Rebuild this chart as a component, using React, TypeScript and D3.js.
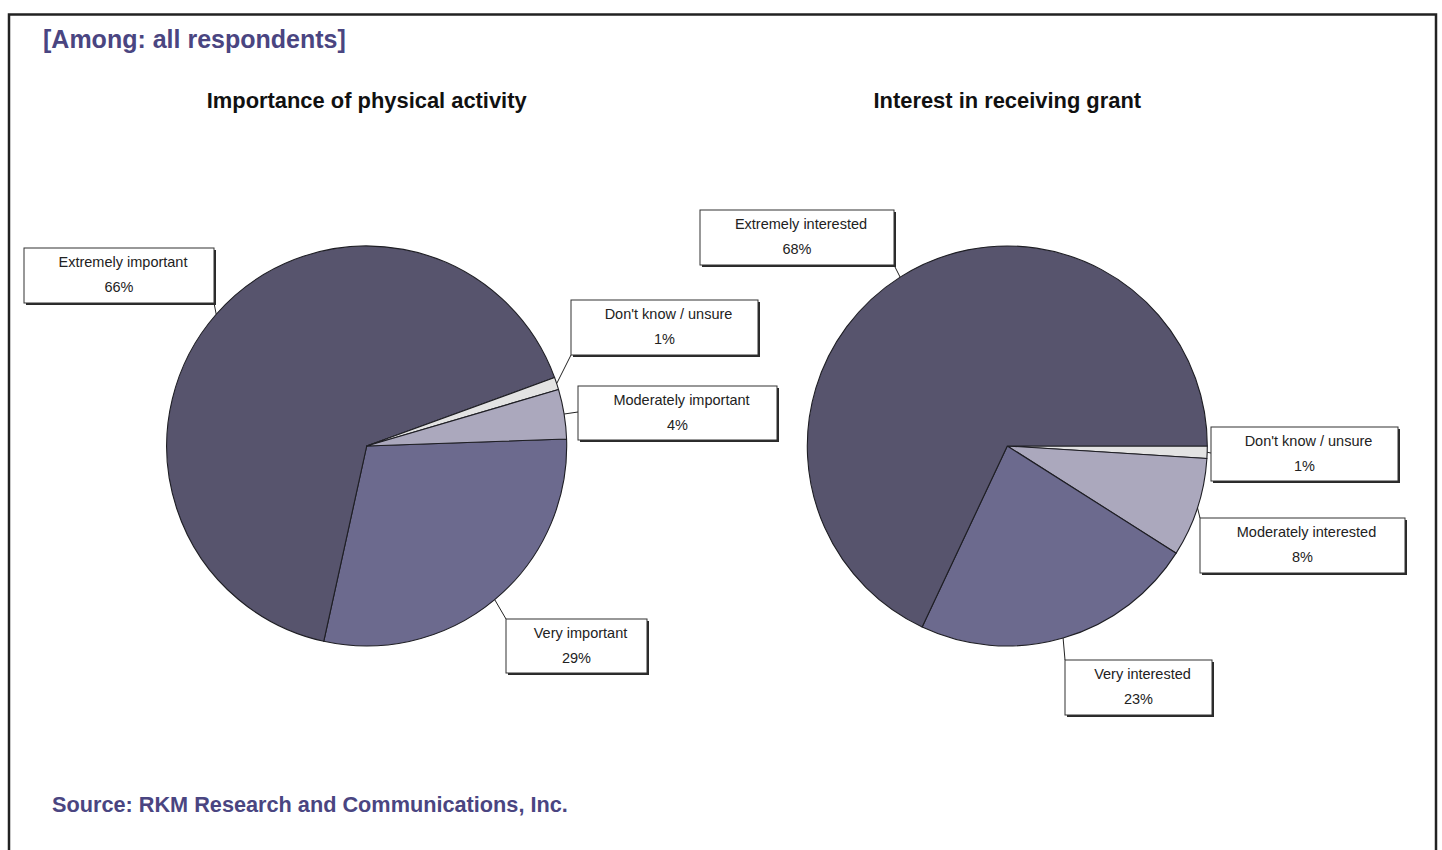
import React from "react";
import * as d3 from "d3";

// Chart 1: Importance of physical activity (clockwise drawing order)
const activityCategories = ["Very important", "Extremely important", "Don't know / unsure", "Moderately important"];
const activityValues = [29, 66, 1, 4];
const activityColors = ["#6c6a8e", "#57546d", "#e3e3e3", "#aba8bd"];

// Chart 2: Interest in receiving grant (clockwise drawing order)
const grantCategories = ["Don't know / unsure", "Moderately interested", "Very interested", "Extremely interested"];
const grantValues = [1, 8, 23, 68];
const grantColors = ["#e3e3e3", "#aba8bd", "#6c6a8e", "#57546d"];

const titles = ["Importance of physical activity", "Interest in receiving grant"];
const headerText = "[Among: all respondents]";
const sourceText = "Source: RKM Research and Communications, Inc.";

type Box = { x: number; y: number; w: number; h: number; cx: number; cy: number };

// label box layout (keyed by category index in drawing order)
const activityBoxes: Box[] = [
  { x: 506, y: 619, w: 141, h: 54, cx: 506, cy: 619 },
  { x: 24, y: 248, w: 190, h: 55, cx: 214, cy: 303 },
  { x: 571, y: 300, w: 187, h: 55, cx: 571, cy: 355 },
  { x: 578, y: 386, w: 199, h: 54, cx: 578, cy: 412 },
];
const grantBoxes: Box[] = [
  { x: 1211, y: 427, w: 187, h: 54, cx: 1211, cy: 453 },
  { x: 1200, y: 518, w: 205, h: 55, cx: 1200, cy: 518 },
  { x: 1065, y: 660, w: 147, h: 55, cx: 1065, cy: 660 },
  { x: 700, y: 210, w: 194, h: 55, cx: 894, cy: 265 },
];

const FONT = "'Liberation Sans', Arial, Helvetica, sans-serif";
const PURPLE = "#4a4581";
const R = 200;

function Pie({ cx, cy, title, cats, vals, colors, boxes, startDeg }: {
  cx: number; cy: number; title: string; cats: string[]; vals: number[]; colors: string[]; boxes: Box[]; startDeg: number;
}) {
  const start = (startDeg * Math.PI) / 180;
  const pie = d3.pie<number>().sort(null).value((d) => d).startAngle(start).endAngle(start + 2 * Math.PI);
  const arcs = pie(vals);
  const arc = d3.arc<d3.PieArcDatum<number>>().innerRadius(0).outerRadius(R);
  return (
    <g>
      <text x={cx} y={108} textAnchor="middle" fontFamily={FONT} fontWeight="bold" fontSize={21.9} fill="#111">{title}</text>
      <g transform={`translate(${cx},${cy})`}>
        {arcs.map((a, i) => (
          <path key={i} d={arc(a) || ""} fill={colors[i]} stroke="#1e1e24" strokeWidth={1.1} strokeLinejoin="round" />
        ))}
      </g>
      {arcs.map((a, i) => {
        const mid = (a.startAngle + a.endAngle) / 2;
        const px = cx + R * Math.sin(mid);
        const py = cy - R * Math.cos(mid);
        const b = boxes[i];
        return (
          <g key={"l" + i}>
            <line x1={px} y1={py} x2={b.cx} y2={b.cy} stroke="#222" strokeWidth={1} />
            <rect x={b.x + 2} y={b.y + 2} width={b.w} height={b.h} fill="#2a2a2a" />
            <rect x={b.x} y={b.y} width={b.w} height={b.h} fill="#fff" stroke="#333" strokeWidth={1} />
            <text x={b.x + b.w / 2 + 4} y={b.y + 18.5} textAnchor="middle" fontFamily={FONT} fontSize={14.5} fill="#222">{cats[i]}</text>
            <text x={b.x + b.w / 2} y={b.y + 43.5} textAnchor="middle" fontFamily={FONT} fontSize={14.5} fill="#222">{`${vals[i]}%`}</text>
          </g>
        );
      })}
    </g>
  );
}

export default function App() {
  return (
    <svg width={1442} height={850} style={{ position: "absolute", left: 0, top: 0, background: "#fff" }}>
      <rect x={0} y={0} width={1442} height={850} fill="#fff" />
      <rect x={9} y={14.5} width={1427} height={900} fill="none" stroke="#222" strokeWidth={2.5} />
      <text x={43} y={48} fontFamily={FONT} fontWeight="bold" fontSize={25} fill={PURPLE}>{headerText}</text>
      <Pie cx={366.7} cy={446} title={titles[0]} cats={activityCategories} vals={activityValues} colors={activityColors} boxes={activityBoxes} startDeg={88} />
      <Pie cx={1007.3} cy={446} title={titles[1]} cats={grantCategories} vals={grantValues} colors={grantColors} boxes={grantBoxes} startDeg={90} />
      <text x={52} y={812} fontFamily={FONT} fontWeight="bold" fontSize={21.7} fill={PURPLE}>{sourceText}</text>
    </svg>
  );
}
